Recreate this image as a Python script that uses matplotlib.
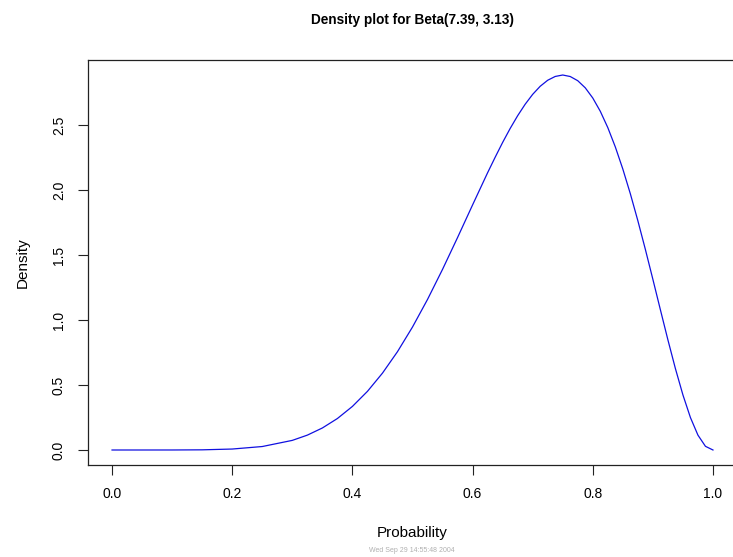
import matplotlib
matplotlib.use("Agg")
import matplotlib.pyplot as plt

plt.rcParams['font.family'] = ['Liberation Sans', 'DejaVu Sans']

# Beta(7.39, 3.13) density
prob = [0.0, 0.05, 0.10, 0.15, 0.20, 0.25, 0.30, 0.325, 0.35, 0.375, 0.40,
        0.425, 0.45, 0.475, 0.50, 0.525, 0.55, 0.575, 0.60, 0.625, 0.6375,
        0.65, 0.6625, 0.675, 0.6875, 0.70, 0.7125, 0.725, 0.7375, 0.75,
        0.7625, 0.775, 0.7875, 0.80, 0.8125, 0.825, 0.8375, 0.85, 0.8625,
        0.875, 0.8875, 0.90, 0.9125, 0.925, 0.9375, 0.95, 0.9625, 0.975,
        0.9875, 1.0]
density = [0.0, 0.0, 0.0001, 0.0013, 0.0074, 0.0267, 0.0740, 0.1143, 0.1693,
           0.2420, 0.3351, 0.4509, 0.5910, 0.7561, 0.9458, 1.1581, 1.3895,
           1.6343, 1.8852, 2.1327, 2.2511, 2.3657, 2.4728, 2.5712, 2.6594,
           2.7355, 2.7975, 2.8439, 2.8730, 2.8842, 2.8725, 2.8403, 2.7855,
           2.7072, 2.6052, 2.4796, 2.3311, 2.1609, 1.9709, 1.7637, 1.5429,
           1.3128, 1.0788, 0.8474, 0.6262, 0.4237, 0.2496, 0.1143, 0.0283,
           0.0]

title = "Density plot for Beta(7.39, 3.13)"
stamp = "Wed Sep 29 14:55:48 2004"

fig = plt.figure(figsize=(7.33, 5.57), dpi=100)
ax = fig.add_axes([88 / 733, 92 / 557, 649 / 733, 405 / 557])

ax.plot(prob, density, color='#1010e0', lw=0.9)

ax.set_xlim(-0.04, 1.04)
ax.set_ylim(-0.1154, 2.9996)
ax.set_xticks([0.0, 0.2, 0.4, 0.6, 0.8, 1.0])
ax.set_xticklabels(['0.0', '0.2', '0.4', '0.6', '0.8', '1.0'])
ax.set_yticks([0.0, 0.5, 1.0, 1.5, 2.0, 2.5])
ax.set_yticklabels(['0.0', '0.5', '1.0', '1.5', '2.0', '2.5'],
                   rotation=90, va='center')
ax.tick_params(length=7, width=0.8, pad=9, labelsize=10, color='#222222')
for s in ax.spines.values():
    s.set_linewidth(0.9)
    s.set_color('#222222')

ax.set_xlabel('Probability', fontsize=11, labelpad=18)
ax.set_ylabel('Density', fontsize=11, labelpad=16)
fig.text(412 / 733, 1 - 20 / 557, title, ha='center', va='center',
         fontsize=9.8, fontweight='bold')
fig.text(412 / 733, 1 - 551 / 557, stamp, ha='center', va='center',
         fontsize=5, color='#b0b0b0')

fig.savefig('out.png', dpi=100)
